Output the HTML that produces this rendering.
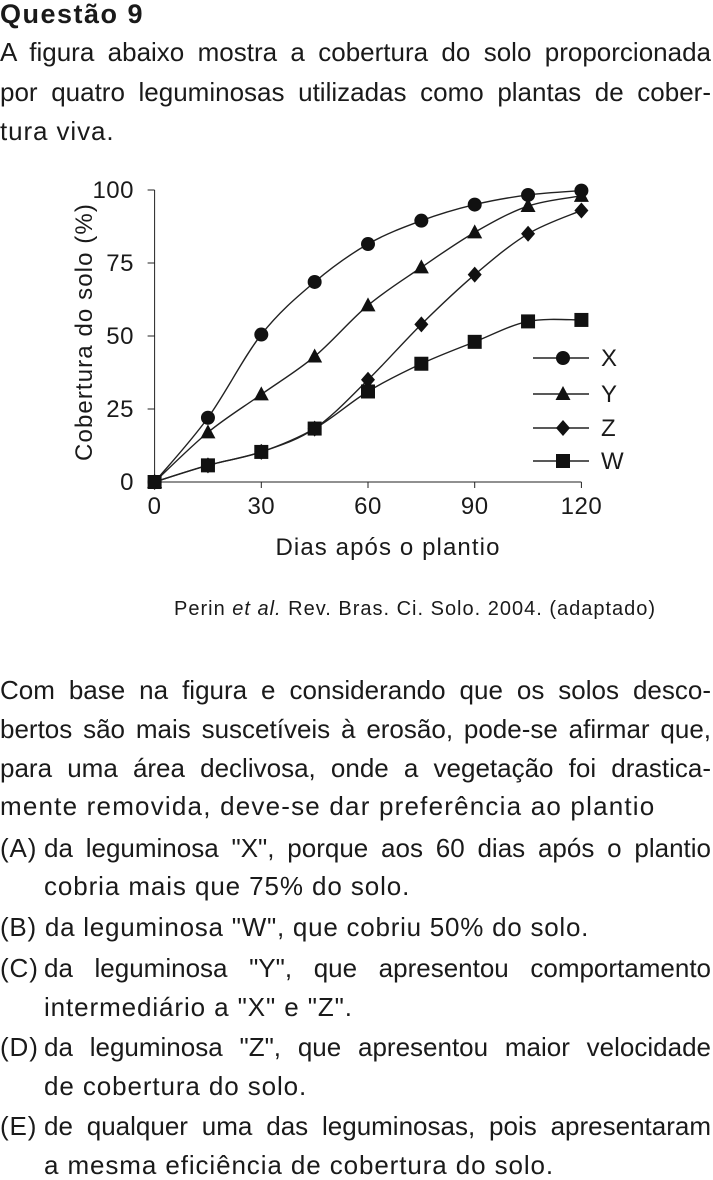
<!DOCTYPE html>
<html><head><meta charset="utf-8"><style>
body{margin:0;width:713px;height:1177px;background:#fff;position:relative;overflow:hidden;font-family:"Liberation Sans",sans-serif;color:#1a1a1a}
.l{position:absolute;left:0;width:711px;font-size:26px;letter-spacing:0.9px;line-height:30px;white-space:nowrap}
.j{text-align:justify;text-align-last:justify;white-space:normal;letter-spacing:0}
.opt{left:0}
.ind{left:44px;width:667px}
svg{position:absolute;left:0;top:0}
</style></head><body>
<div class="l" style="top:-1px;font-weight:bold;font-size:27px;letter-spacing:1.5px">Questão 9</div>
<div class="l j" style="top:37px">A figura abaixo mostra a cobertura do solo proporcionada</div>
<div class="l j" style="top:77px">por quatro leguminosas utilizadas como plantas de cober-</div>
<div class="l" style="top:116px">tura viva.</div>

<svg width="713" height="640" id="chart"></svg>
<div class="l" style="top:594px;left:174px;font-size:20px;letter-spacing:1px">Perin <i>et al.</i> Rev. Bras. Ci. Solo. 2004. (adaptado)</div>

<div class="l j" style="top:675px">Com base na figura e considerando que os solos desco-</div>
<div class="l j" style="top:714px">bertos são mais suscetíveis à erosão, pode-se afirmar que,</div>
<div class="l j" style="top:753px">para uma área declivosa, onde a vegetação foi drastica-</div>
<div class="l" style="top:791px;letter-spacing:1.2px">mente removida, deve-se dar preferência ao plantio</div>
<div class="l" style="top:833px">(A)</div>
<div class="l j ind" style="top:833px">da leguminosa "X", porque aos 60 dias após o plantio</div>
<div class="l ind" style="top:871px">cobria mais que 75% do solo.</div>
<div class="l" style="top:912px;letter-spacing:0.75px">(B) da leguminosa "W", que cobriu 50% do solo.</div>
<div class="l" style="top:953px">(C)</div>
<div class="l j ind" style="top:953px">da leguminosa "Y", que apresentou comportamento</div>
<div class="l ind" style="top:992px">intermediário a "X" e "Z".</div>
<div class="l" style="top:1032px">(D)</div>
<div class="l j ind" style="top:1032px">da leguminosa "Z", que apresentou maior velocidade</div>
<div class="l ind" style="top:1071px">de cobertura do solo.</div>
<div class="l" style="top:1111px">(E)</div>
<div class="l j ind" style="top:1111px">de qualquer uma das leguminosas, pois apresentaram</div>
<div class="l ind" style="top:1150px">a mesma eficiência de cobertura do solo.</div>

<script>
const days=[0,15,30,45,60,75,90,105,120];
const seriesX=[0,22,50.5,68.5,81.5,89.5,95,98.3,99.8];
const seriesY=[0,17,30,43,60.5,73.5,85.5,94.5,98];
const seriesZ=[0,5.7,10.3,18.3,35,54,71,85,93];
const seriesW=[0,5.7,10.3,18.3,31,40.5,48,55,55.5];
const xTicks=[0,30,60,90,120];
const yTicks=[0,25,50,75,100];
const seriesNames=["X","Y","Z","W"];
const NS="http://www.w3.org/2000/svg";
const svg=document.getElementById('chart');
const x0=154.6,x1=581.4,y0=482,y1=190;
const sx=d=>x0+(d/120)*(x1-x0);
const sy=v=>y0-(v/100)*(y0-y1);
function mk(t,a,p){const e=document.createElementNS(NS,t);for(const k in a)e.setAttribute(k,a[k]);(p||svg).appendChild(e);return e;}
let e;
e=mk('line',{x1:x0,y1:y0,x2:x1,y2:y0,stroke:'#222','stroke-width':1});


e=mk('line',{x1:x0,y1:y0,x2:x0,y2:y1,stroke:'#222','stroke-width':1});


yTicks.forEach(v=>{
 e=mk('line',{x1:x0-7,y1:sy(v),x2:x0,y2:sy(v),stroke:'#222'});
 
 
 e=mk('text',{x:134,y:sy(v)+8,'text-anchor':'end','font-size':24,'letter-spacing':0.5,'font-family':'Liberation Sans',fill:'#1a1a1a'});
 e.textContent=v;
 
 
});
xTicks.forEach(d=>{
 e=mk('line',{x1:sx(d),y1:y0,x2:sx(d),y2:y0+6,stroke:'#222'});
 
 
 e=mk('text',{x:sx(d),y:514,'text-anchor':'middle','font-size':24,'letter-spacing':0.5,'font-family':'Liberation Sans',fill:'#1a1a1a'});
 e.textContent=d;
 
 
});
e=mk('text',{x:388,y:555,'text-anchor':'middle','font-size':24,'letter-spacing':1.1,'font-family':'Liberation Sans',fill:'#1a1a1a'});
e.textContent='Dias após o plantio';


e=mk('text',{x:0,y:0,'text-anchor':'middle','font-size':24,'letter-spacing':1.1,'font-family':'Liberation Sans',fill:'#1a1a1a',transform:'translate(92,332) rotate(-90)'});
e.textContent='Cobertura do solo (%)';



function pathFor(vals){
 const p=days.map((d,i)=>[sx(d),sy(vals[i])]);
 let s='M'+p[0][0]+','+p[0][1];
 for(let i=0;i<p.length-1;i++){
  const a=p[i-1]||p[i],b=p[i],c=p[i+1],d=p[i+2]||p[i+1];
  const c1=[b[0]+(c[0]-a[0])/6,b[1]+(c[1]-a[1])/6],c2=[c[0]-(d[0]-b[0])/6,c[1]-(d[1]-b[1])/6];
  s+=' C'+c1+' '+c2+' '+c;
 }
 return s;
}
function marker(kind,cx,cy,g){
 if(kind==='X')return mk('circle',{cx:cx,cy:cy,r:7,fill:'#111'},g);
 if(kind==='Y')return mk('polygon',{points:`${cx},${cy-8} ${cx+7.5},${cy+6} ${cx-7.5},${cy+6}`,fill:'#111'},g);
 if(kind==='Z')return mk('polygon',{points:`${cx},${cy-8} ${cx+7},${cy} ${cx},${cy+8} ${cx-7},${cy}`,fill:'#111'},g);
 return mk('rect',{x:cx-7,y:cy-7,width:14,height:14,fill:'#111'},g);
}
const all=[seriesX,seriesY,seriesZ,seriesW];
all.forEach((vals,k)=>{
 const g=mk('g',{});
 
 
 e=mk('path',{d:pathFor(vals),fill:'none',stroke:'#222','stroke-width':1.4},g);
 
 
 vals.forEach((v,i)=>{
  e=marker(seriesNames[k],sx(days[i]),sy(v),g);
  
  
 });
});
const ly=[358,394,428,461];
seriesNames.forEach((n,k)=>{
 const g=mk('g',{});
 
 
 mk('line',{x1:533,y1:ly[k],x2:589,y2:ly[k],stroke:'#222','stroke-width':1.4},g);
 marker(n,563,ly[k],g);
 const t=mk('text',{x:601,y:ly[k]+8,'font-size':24,'font-family':'Liberation Sans',fill:'#1a1a1a'},g);
 t.textContent=n;
});
</script>
</body></html>
